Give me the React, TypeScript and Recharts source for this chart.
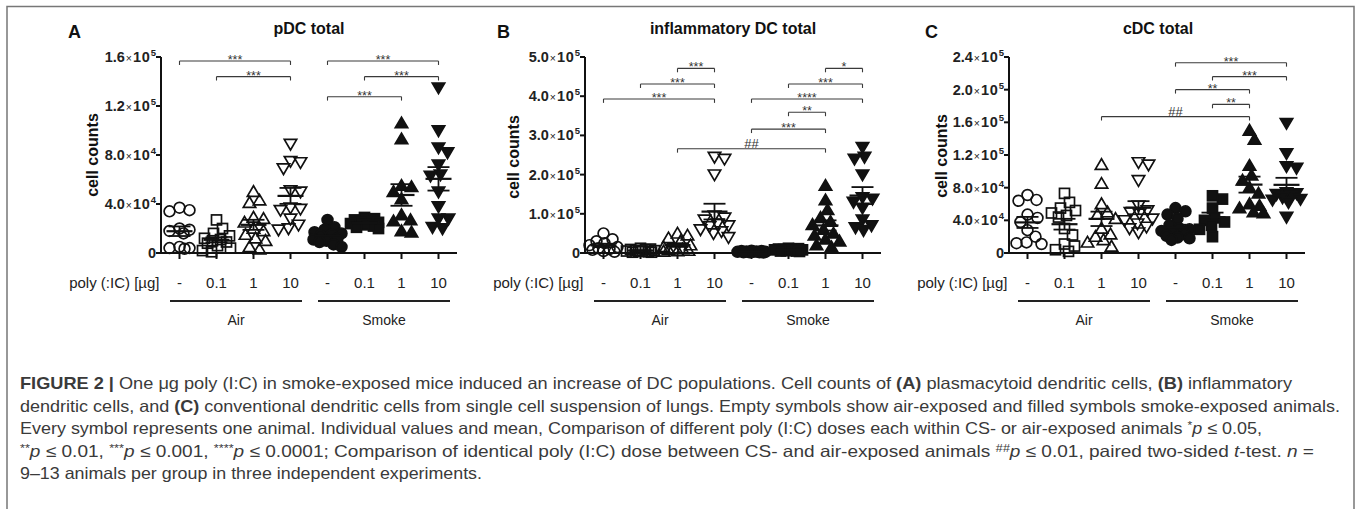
import React from 'react';
import { ScatterChart, Scatter, XAxis, YAxis, ReferenceLine, ErrorBar } from 'recharts';

// ---- data ----
const categories = ['-', '0.1', '1', '10', '-', '0.1', '1', '10'];
const exposures = ['Air', 'Smoke'];
const doseLabel = 'poly (:IC) [µg]';

// pDC total, x10^4 cells, one array per group (Air -, 0.1, 1, 10, Smoke -, 0.1, 1, 10)
const pdcCounts: number[][] = [
  [3.7, 3.5, 3.4, 2.0, 1.9, 1.8, 1.6, 0.5, 0.4, 0.4, 0.35],
  [2.7, 2.0, 1.6, 1.4, 1.2, 1.1, 1.0, 0.9, 0.8, 0.6, 0.4, 0.2, 0.1],
  [5.0, 4.3, 4.1, 2.9, 2.8, 2.5, 2.0, 1.8, 1.5, 1.2, 1.0, 0.5, 0.3],
  [8.9, 7.5, 7.4, 6.9, 5.1, 5.0, 3.7, 3.6, 3.5, 2.8, 2.3, 2.0, 1.9],
  [2.7, 2.1, 1.9, 1.7, 1.6, 1.5, 1.4, 1.2, 1.1, 1.0, 0.9, 0.7, 0.5],
  [2.9, 2.8, 2.7, 2.6, 2.5, 2.5, 2.4, 2.3, 2.2, 2.1, 2.0],
  [10.6, 9.3, 5.5, 5.4, 5.0, 4.4, 3.1, 2.7, 2.6, 1.8, 1.7],
  [13.5, 10.0, 8.6, 8.2, 7.2, 6.4, 6.3, 5.0, 3.8, 2.8, 2.8, 2.1, 2.0],
];
const pdcTicks = [0, 4, 8, 12, 16];
const pdcTickLabels = ['0', '4.0×10^4', '8.0×10^4', '1.2×10^5', '1.6×10^5'];
const pdcBrackets: [number, number, number, string][] = [
  [1, 4, 15.67, '***'], [2, 4, 14.4, '***'],
  [5, 8, 15.67, '***'], [6, 8, 14.4, '***'], [5, 7, 12.76, '***'],
];

// inflammatory DC total, x10^5 cells
const idcCounts: number[][] = [
  [0.5, 0.35, 0.3, 0.25, 0.2, 0.15, 0.12, 0.1, 0.08, 0.05, 0.03],
  [0.12, 0.1, 0.09, 0.08, 0.07, 0.06, 0.05, 0.05, 0.04, 0.03, 0.02, 0.02],
  [0.5, 0.45, 0.38, 0.3, 0.2, 0.15, 0.12, 0.1, 0.08, 0.06, 0.05, 0.04],
  [2.45, 2.4, 2.0, 0.95, 0.9, 0.85, 0.75, 0.7, 0.68, 0.6, 0.55, 0.5, 0.4],
  [0.06, 0.05, 0.05, 0.04, 0.04, 0.03, 0.03, 0.03, 0.02, 0.02, 0.02, 0.01],
  [0.12, 0.11, 0.1, 0.1, 0.09, 0.08, 0.08, 0.07, 0.06, 0.05, 0.05, 0.04],
  [1.72, 1.35, 1.1, 0.9, 0.8, 0.72, 0.6, 0.5, 0.45, 0.35, 0.3, 0.2, 0.15],
  [2.7, 2.45, 2.4, 2.0, 1.42, 1.38, 1.3, 1.15, 0.85, 0.7, 0.65, 0.58],
];
const idcTicks = [0, 1, 2, 3, 4, 5];
const idcTickLabels = ['0', '1.0×10^5', '2.0×10^5', '3.0×10^5', '4.0×10^5', '5.0×10^5'];
const idcBrackets: [number, number, number, string][] = [
  [3, 4, 4.71, '***'], [2, 4, 4.31, '***'], [1, 4, 3.93, '***'],
  [7, 8, 4.71, '*'], [6, 8, 4.31, '***'], [5, 8, 3.93, '****'],
  [6, 7, 3.59, '**'], [5, 7, 3.16, '***'], [3, 7, 2.66, '##'],
];

// cDC total, x10^4 cells
const cdcCounts: number[][] = [
  [7.1, 6.5, 6.4, 4.7, 4.3, 3.8, 2.8, 2.0, 1.3, 1.2, 1.1],
  [7.3, 6.2, 5.5, 5.2, 4.9, 4.6, 4.4, 3.0, 2.2, 1.1, 0.85, 0.4, 0.2],
  [10.8, 8.5, 6.0, 5.0, 4.7, 4.2, 3.0, 2.3, 2.0, 1.6, 1.3, 0.8],
  [11.1, 10.8, 8.9, 5.8, 5.2, 5.0, 4.8, 4.2, 4.0, 3.6, 3.2, 3.0, 2.5],
  [5.5, 5.1, 4.7, 4.2, 3.4, 3.0, 2.9, 2.7, 2.5, 2.3, 2.1, 1.9, 1.8, 1.6],
  [7.0, 6.6, 5.5, 4.3, 4.0, 3.8, 3.4, 2.9, 2.0],
  [15.0, 13.9, 10.7, 9.5, 8.9, 8.0, 7.3, 6.0, 5.8, 5.5, 5.0, 4.9],
  [15.9, 12.2, 10.6, 10.4, 7.4, 7.3, 7.2, 7.0, 6.8, 6.6, 6.5, 6.2, 4.4],
];
const cdcTicks = [0, 4, 8, 12, 16, 20, 24];
const cdcTickLabels = ['0', '4.0×10^4', '8.0×10^4', '1.2×10^5', '1.6×10^5', '2.0×10^5', '2.4×10^5'];
const cdcBrackets: [number, number, number, string][] = [
  [5, 8, 23.3, '***'], [6, 8, 21.6, '***'], [5, 7, 20.0, '**'],
  [6, 7, 18.2, '**'], [3, 7, 16.7, '##'],
];

// ---- layout ----
const INK = '#111';
const FONT = '"Liberation Sans", Arial, Helvetica, sans-serif';
const CHART_H = 340;
const PLOT_TOP = 57;
const PLOT_H = 196;
const PLOT_W = 296;
const CAT_W = PLOT_W / 8;
const MIN_D = 10;
const MAX_OFF = 14;
const kinds = ['circle', 'square', 'up', 'down', 'circle', 'square', 'up', 'down'];

// Prism-like scatter layout: points spread sideways when they would overlap
function swarmOffsets(values: number[], yMax: number): number[] {
  const pxY = PLOT_H / yMax;
  const cands: number[] = [0];
  for (let k = 1; k <= MAX_OFF; k++) cands.push(k, -k);
  const placed: { x: number; y: number }[] = [];
  return values.map((v) => {
    const y = v * pxY;
    let best = 0;
    let bestScore = -1;
    for (const c of cands) {
      let minD = Infinity;
      for (const p of placed) minD = Math.min(minD, Math.hypot(p.x - c, p.y - y));
      if (minD >= MIN_D) { best = c; break; }
      if (minD > bestScore + 0.01) { bestScore = minD; best = c; }
    }
    placed.push({ x: best, y });
    return best / CAT_W;
  });
}

function meanSem(vals: number[]) {
  const n = vals.length;
  const m = vals.reduce((a, b) => a + b, 0) / n;
  const sd = Math.sqrt(vals.reduce((a, b) => a + (b - m) * (b - m), 0) / (n - 1));
  return { m, sem: sd / Math.sqrt(n) };
}

function Marker({ cx, cy, kind, filled }: any) {
  const p = { stroke: INK, strokeWidth: 1.7, fill: filled ? INK : 'none' };
  if (kind === 'circle') return <circle cx={cx} cy={cy} r={5.4} {...p} />;
  if (kind === 'square') return <rect x={cx - 5} y={cy - 5} width={10} height={10} {...p} />;
  if (kind === 'up')
    return <polygon points={`${cx},${cy - 6} ${cx + 6.2},${cy + 4.6} ${cx - 6.2},${cy + 4.6}`} {...p} />;
  return <polygon points={`${cx},${cy + 6} ${cx + 6.2},${cy - 4.6} ${cx - 6.2},${cy - 4.6}`} {...p} />;
}

function XTick({ x, y, payload }: any) {
  const i = Math.round(payload.value) - 1;
  const mid = x + 1.5 * CAT_W + 1;
  return (
    <g fontFamily={FONT} fill="#222">
      <text x={x} y={y + 27} textAnchor="middle" fontSize={15}>{categories[i]}</text>
      {i === 0 && <text x={x - 20} y={y + 27} textAnchor="end" fontSize={15}>{doseLabel}</text>}
      {(i === 0 || i === 4) && (
        <g>
          <line x1={mid - 66} x2={mid + 66} y1={y + 40} y2={y + 40} stroke="#222" strokeWidth={2} />
          <text x={mid} y={y + 64} textAnchor="middle" fontSize={14}>{exposures[i === 0 ? 0 : 1]}</text>
        </g>
      )}
    </g>
  );
}

function YTick({ x, y, payload, ticks, labels, unit }: any) {
  const idx = ticks.findIndex((t: number) => Math.abs(t * unit - payload.value) < 1e-6 * unit);
  const lab: string = labels[idx] ?? '';
  const [mant, exp] = lab.split('×10^');
  return (
    <text x={x} y={y + 5} textAnchor="end" fontFamily={FONT} fontSize={14.5} fontWeight="bold" fill="#222">
      {mant}
      {exp && <tspan fontSize={10.5} fontWeight="normal" dx={1}>×</tspan>}
      {exp && <tspan dx={1} letterSpacing={0.8}>10</tspan>}
      {exp && <tspan fontSize={9.5} dy={-6}>{exp}</tspan>}
    </text>
  );
}

function Panel({ left, width, axisX, counts, unit, ticks, labels, brackets }: any) {
  const yMax = ticks[ticks.length - 1];
  const tickH = yMax * 0.02;
  const groups = counts.map((vals: number[], gi: number) => {
    const offs = swarmOffsets(vals, yMax);
    return vals.map((v, k) => ({ x: gi + 1 + offs[k], y: v * unit }));
  });
  const means = counts.map((vals: number[], gi: number) => {
    const { m, sem } = meanSem(vals);
    return { x: gi + 1, y: m * unit, sem: sem * unit };
  });
  const bracketLabels = brackets.map(([a, b, lvl, t]: any) => ({ x: (a + b) / 2, y: lvl * unit, t }));
  const axisW = axisX - left;
  const br = { stroke: '#3a3a3a', strokeWidth: 1.1 };
  return (
    <div style={{ position: 'absolute', left, top: 0 }}>
      <ScatterChart width={width} height={CHART_H}
        margin={{ top: PLOT_TOP, right: width - axisW - PLOT_W, bottom: 0, left: 0 }}>
        <XAxis type="number" dataKey="x" domain={[0.5, 8.5]} ticks={[1, 2, 3, 4, 5, 6, 7, 8]} interval={0}
          height={CHART_H - PLOT_TOP - PLOT_H} tickSize={6} tickMargin={2}
          axisLine={{ stroke: INK, strokeWidth: 2 }} tickLine={{ stroke: INK, strokeWidth: 2 }}
          tick={(p: any) => <XTick {...p} />} />
        <YAxis type="number" dataKey="y" domain={[0, yMax * unit]} ticks={ticks.map((t: number) => t * unit)}
          interval={0} width={axisW} tickSize={5} tickMargin={0}
          axisLine={{ stroke: INK, strokeWidth: 2 }} tickLine={{ stroke: INK, strokeWidth: 2 }}
          tick={(p: any) => <YTick {...p} ticks={ticks} labels={labels} unit={unit} />} />
        {brackets.map(([a, b, lvl]: any, i: number) => (
          <React.Fragment key={'br' + i}>
            <ReferenceLine segment={[{ x: a, y: lvl * unit }, { x: b, y: lvl * unit }]} {...br} />
            <ReferenceLine segment={[{ x: a, y: lvl * unit }, { x: a, y: (lvl - tickH) * unit }]} {...br} />
            <ReferenceLine segment={[{ x: b, y: lvl * unit }, { x: b, y: (lvl - tickH) * unit }]} {...br} />
          </React.Fragment>
        ))}
        {groups.map((d: any[], gi: number) => (
          <Scatter key={'g' + gi} data={d} isAnimationActive={false}
            shape={(p: any) => <Marker cx={p.cx} cy={p.cy} kind={kinds[gi]} filled={gi >= 4} />} />
        ))}
        <Scatter data={means} isAnimationActive={false}
          shape={(p: any) => <line x1={p.cx - 13} x2={p.cx + 13} y1={p.cy} y2={p.cy} stroke={INK} strokeWidth={2.2} />}>
          <ErrorBar dataKey="sem" direction="y" width={11} stroke={INK} strokeWidth={1.8} isAnimationActive={false} />
        </Scatter>
        <Scatter data={bracketLabels} isAnimationActive={false}
          shape={(p: any) => (
            <text x={p.cx} y={p.cy + (p.payload.t === '##' ? -1 : 3)} textAnchor="middle" fontFamily={FONT}
              fontSize={p.payload.t === '##' ? 13 : 12.5} fill="#333">{p.payload.t}</text>
          )} />
      </ScatterChart>
    </div>
  );
}

type Seg = { t: string; b?: boolean; i?: boolean; s?: boolean };
const caption: Seg[][] = [
  [{ t: 'FIGURE 2 |', b: true }, { t: ' One μg poly (I:C) in smoke-exposed mice induced an increase of DC populations. Cell counts of ' }, { t: '(A)', b: true }, { t: ' plasmacytoid dendritic cells, ' }, { t: '(B)', b: true }, { t: ' inflammatory' }],
  [{ t: 'dendritic cells, and ' }, { t: '(C)', b: true }, { t: ' conventional dendritic cells from single cell suspension of lungs. Empty symbols show air-exposed and filled symbols smoke-exposed animals.' }],
  [{ t: 'Every symbol represents one animal. Individual values and mean, Comparison of different poly (I:C) doses each within CS- or air-exposed animals ' }, { t: '*', s: true }, { t: 'p', i: true }, { t: ' ≤ 0.05,' }],
  [{ t: '**', s: true }, { t: 'p', i: true }, { t: ' ≤ 0.01, ' }, { t: '***', s: true }, { t: 'p', i: true }, { t: ' ≤ 0.001, ' }, { t: '****', s: true }, { t: 'p', i: true }, { t: ' ≤ 0.0001; Comparison of identical poly (I:C) dose between CS- and air-exposed animals ' }, { t: '##', s: true, i: true }, { t: 'p', i: true }, { t: ' ≤ 0.01, paired two-sided ' }, { t: 't', i: true }, { t: '-test. ' }, { t: 'n', i: true }, { t: ' =' }],
  [{ t: '9–13 animals per group in three independent experiments.' }],
];
const captionWidths = [1272, 1320, 1242, 1294, 462];

function CaptionLine({ segs, y, len }: { segs: Seg[]; y: number; len: number }) {
  let shift = 0;
  return (
    <text x={20} y={y} textLength={len} lengthAdjust="spacingAndGlyphs" fontSize={16.5}
      fontFamily={'"Liberation Sans Narrow", "Liberation Sans", Arial, sans-serif'} fill="#3a3a3a"
      style={{ whiteSpace: 'pre' }} xmlSpace="preserve">
      {segs.map((s, k) => {
        const target = s.s ? -5 : 0;
        const dy = target - shift;
        shift = target;
        return (
          <tspan key={k} dy={dy || undefined} fontWeight={s.b ? 'bold' : undefined}
            fontStyle={s.i ? 'italic' : undefined} fontSize={s.s ? 11 : undefined}>{s.t}</tspan>
        );
      })}
    </text>
  );
}

export default function App() {
  return (
    <div style={{ position: 'relative', width: 1357, height: 509, background: '#fff', overflow: 'hidden' }}>
      <style>{'body{margin:0}'}</style>
      <Panel left={0} width={470} axisX={161} counts={pdcCounts} unit={1e4} ticks={pdcTicks} labels={pdcTickLabels} brackets={pdcBrackets} />
      <Panel left={470} width={430} axisX={585} counts={idcCounts} unit={1e5} ticks={idcTicks} labels={idcTickLabels} brackets={idcBrackets} />
      <Panel left={900} width={450} axisX={1009} counts={cdcCounts} unit={1e4} ticks={cdcTicks} labels={cdcTickLabels} brackets={cdcBrackets} />
      <svg width={1357} height={509} style={{ position: 'absolute', left: 0, top: 0, pointerEvents: 'none' }}>
        <polyline points="7,509 7,6.5 1354,6.5 1354,509" fill="none" stroke="#777" strokeWidth={1.5} />
        <g fontFamily={FONT} fontWeight="bold" fill="#111">
          <text x={68} y={38} fontSize={18}>A</text>
          <text x={497} y={38} fontSize={18}>B</text>
          <text x={925} y={38} fontSize={18}>C</text>
          <text x={309} y={34} fontSize={16} textAnchor="middle">pDC total</text>
          <text x={733} y={34} fontSize={16} textAnchor="middle">inflammatory DC total</text>
          <text x={1158} y={34} fontSize={16} textAnchor="middle">cDC total</text>
          <text x={98} y={155} fontSize={16} textAnchor="middle" transform="rotate(-90 98 155)">cell counts</text>
          <text x={519} y={157} fontSize={16} textAnchor="middle" transform="rotate(-90 519 157)">cell counts</text>
          <text x={947} y={156} fontSize={16} textAnchor="middle" transform="rotate(-90 947 156)">cell counts</text>
        </g>
        {caption.map((segs, k) => (
          <CaptionLine key={k} segs={segs} y={389 + k * 22.5} len={captionWidths[k]} />
        ))}
      </svg>
    </div>
  );
}
